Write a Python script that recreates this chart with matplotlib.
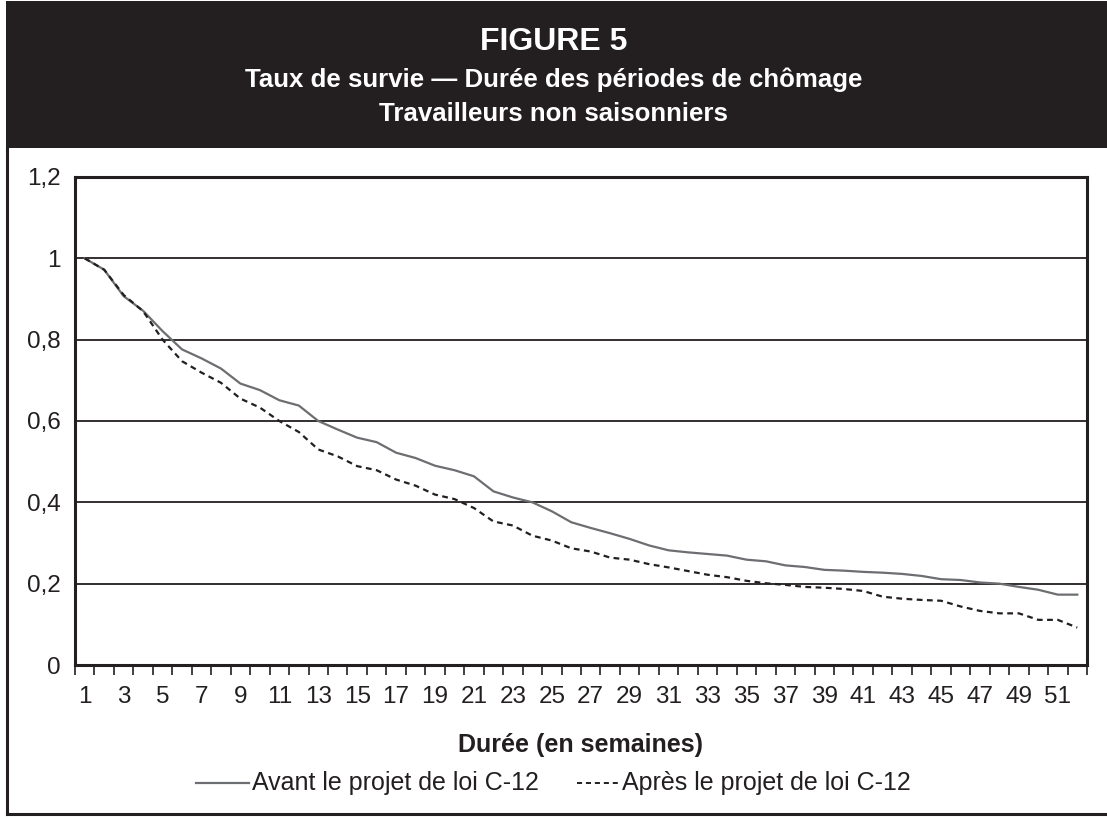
import numpy as np
import matplotlib
matplotlib.use("Agg")
import matplotlib.pyplot as plt
from matplotlib.lines import Line2D
from matplotlib.patches import Rectangle

plt.rcParams['font.family'] = ['Liberation Sans', 'DejaVu Sans']

weeks = list(range(1, 53))
avant = [1.0, 0.972, 0.907, 0.871, 0.821, 0.776, 0.754, 0.729, 0.692, 0.676,
         0.651, 0.638, 0.600, 0.579, 0.559, 0.548, 0.522, 0.509, 0.490, 0.479,
         0.464, 0.427, 0.412, 0.400, 0.378, 0.351, 0.337, 0.324, 0.310, 0.294,
         0.282, 0.277, 0.273, 0.269, 0.259, 0.255, 0.245, 0.241, 0.234, 0.232,
         0.229, 0.227, 0.224, 0.219, 0.211, 0.209, 0.203, 0.200, 0.192, 0.185,
         0.173, 0.173]
apres = [1.0, 0.972, 0.910, 0.870, 0.800, 0.747, 0.719, 0.694, 0.655, 0.633,
         0.600, 0.573, 0.530, 0.513, 0.489, 0.479, 0.456, 0.441, 0.419, 0.408,
         0.386, 0.353, 0.343, 0.318, 0.306, 0.287, 0.279, 0.264, 0.259, 0.248,
         0.240, 0.231, 0.222, 0.216, 0.207, 0.201, 0.197, 0.192, 0.190, 0.187,
         0.182, 0.168, 0.163, 0.160, 0.158, 0.144, 0.133, 0.127, 0.127, 0.111,
         0.111, 0.092]
yticks = [0, 0.2, 0.4, 0.6, 0.8, 1.0, 1.2]
ytick_labels = ["0", "0,2", "0,4", "0,6", "0,8", "1", "1,2"]
xtick_labels = [str(w) for w in weeks[::2]]

title = "FIGURE 5"
subtitle1 = "Taux de survie \u2014 Dur\u00e9e des p\u00e9riodes de ch\u00f4mage"
subtitle2 = "Travailleurs non saisonniers"
xlabel = "Dur\u00e9e (en semaines)"
label_avant = "Avant le projet de loi C-12"
label_apres = "Apr\u00e8s le projet de loi C-12"

W, H = 1107, 818
DARK = "#231f20"
GREY = "#6d6e71"
DASH = (0, (2.6, 2.0))
fig = plt.figure(figsize=(W / 100, H / 100), dpi=100)
fig.patch.set_facecolor("white")

def fx(px):
    return px / W

def fy(py):
    return 1 - py / H

# title band
fig.patches.append(Rectangle((fx(6), fy(148)), 1 - fx(6), fy(1) - fy(148),
                             transform=fig.transFigure, facecolor=DARK,
                             edgecolor="none", zorder=0))
fig.text(0.5, fy(42), title, color="white", fontsize=23, fontweight="bold",
         ha="center", va="center")
fig.text(0.5, fy(80), subtitle1, color="white", fontsize=18.6, fontweight="bold",
         ha="center", va="center")
fig.text(0.5, fy(114), subtitle2, color="white", fontsize=18.6, fontweight="bold",
         ha="center", va="center")

# outer frame (left and bottom)
fig.lines.append(Line2D([fx(7), fx(7)], [fy(148), fy(814)], transform=fig.transFigure,
                        color=DARK, lw=2.2))
fig.lines.append(Line2D([fx(7), 1], [fy(814), fy(814)], transform=fig.transFigure,
                        color=DARK, lw=2.2))

ax = fig.add_axes([fx(75), fy(665), fx(1087) - fx(75), fy(177) - fy(665)])
ax.plot(weeks, avant, color=GREY, lw=1.6, solid_joinstyle="round")
ax.plot(weeks, apres, color=DARK, lw=1.6, linestyle=DASH)

ax.set_xlim(0.5, 52.5)
ax.set_ylim(0, 1.2)
ax.set_yticks(yticks)
ax.set_yticklabels(ytick_labels, fontsize=17.5, color=DARK)
ax.tick_params(axis="y", length=0, pad=10)
for yv in yticks[1:-1]:
    ax.axhline(yv, color=DARK, lw=1.3, zorder=0)

ax.set_xticks(weeks[::2])
ax.set_xticklabels(xtick_labels, fontsize=17.5, color=DARK)
ax.tick_params(axis="x", which="major", length=0, pad=15)
ax.set_xticks(np.arange(0.5, 53, 1), minor=True)
ax.tick_params(axis="x", which="minor", length=7, width=1.2, color=DARK, direction="out")
for s in ax.spines.values():
    s.set_color(DARK)
    s.set_linewidth(2.2)

ax.set_xlabel(xlabel, fontsize=18, fontweight="bold", color=DARK, labelpad=0)
ax.xaxis.set_label_coords(0.5, -(745 - 665) / (665 - 177), transform=ax.transAxes)
ax.xaxis.label.set_va("center")

# legend
ly = fy(783)
fig.lines.append(Line2D([fx(196), fx(249)], [ly, ly], transform=fig.transFigure,
                        color=GREY, lw=1.6))
fig.text(fx(252), ly, label_avant, fontsize=18, color=DARK, ha="left", va="center")
fig.lines.append(Line2D([fx(577), fx(618)], [ly, ly], transform=fig.transFigure,
                        color=DARK, lw=1.4, linestyle=DASH))
fig.text(fx(622), ly, label_apres, fontsize=18, color=DARK, ha="left", va="center")

fig.savefig("out.png", dpi=100)
